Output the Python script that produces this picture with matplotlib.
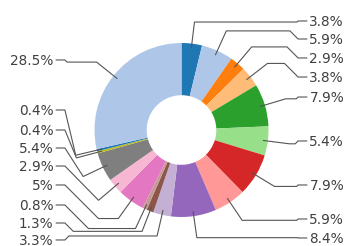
import numpy as np
import matplotlib
matplotlib.use("Agg")
import matplotlib.pyplot as plt

# ---- data ----
values = [3.8, 5.9, 2.9, 3.8, 7.9, 5.4, 7.9, 5.9, 8.4,
          3.3, 1.3, 0.8, 5.0, 2.9, 5.4, 0.4, 0.4, 28.5]
labels = [f"{v:g}%" for v in values]
colors = ["#1f77b4", "#aec7e8", "#ff7f0e", "#ffbb78", "#2ca02c", "#98df8a",
          "#d62728", "#ff9896", "#9467bd", "#c5b0d5", "#8c564b", "#c49c94",
          "#e377c2", "#f7b6d2", "#7f7f7f", "#bcbd22", "#1f77b4", "#aec7e8"]

# ---- layout: label heights (data units) after de-overlapping ----
label_y = [1.253, 1.046, 0.828, 0.609, 0.379, -0.126, -0.632, -1.023, -1.241,
           -1.264, -1.069, -0.862, -0.632, -0.414, -0.207, 0.0, 0.230, 0.805]

W_PX, H_PX = 359, 246
SCALE = 87.0           # pixels per data unit (pie radius)
CX, CY = 181.5, 116.0  # pie centre in pixels from lower-left

fig = plt.figure(figsize=(W_PX / 100, H_PX / 100), dpi=100)
ax = fig.add_axes([0, 0, 1, 1])

wedges, _ = ax.pie(values, colors=colors, startangle=90, counterclock=False,
                   radius=1.0, wedgeprops=dict(width=0.6, linewidth=0))

ax.set_xlim(-CX / SCALE, (W_PX - CX) / SCALE)
ax.set_ylim(-CY / SCALE, (H_PX - CY) / SCALE)
ax.set_aspect("equal")
ax.axis("off")

R0, R1 = 0.95, 1.25
LX = 1.47
GAP = 0.03
ARM = 0.10
line_kw = dict(color="#555555", lw=0.8, solid_joinstyle="miter", zorder=3)

for w, lab, ly in zip(wedges, labels, label_y):
    ang = np.deg2rad((w.theta1 + w.theta2) / 2.0)
    ca, sa = np.cos(ang), np.sin(ang)
    s = 1 if ca >= 0 else -1
    p0 = (R0 * ca, R0 * sa)
    p1 = (R1 * ca, R1 * sa)
    x3 = s * (LX - GAP - ARM)
    x4 = s * (LX - GAP)
    dy = abs(ly - p1[1])
    x2 = x3 - s * dy
    pts = [p0, p1]
    if s * (x2 - p1[0]) > 0:
        pts.append((x2, p1[1]))
    pts += [(x3, ly), (x4, ly)]
    xs, ys = zip(*pts)
    ax.plot(xs, ys, **line_kw)
    ax.text(s * LX, ly - 0.012, lab, ha="left" if s > 0 else "right",
            va="center", fontsize=9.8, color="#404040", zorder=4)

fig.savefig("out.png", dpi=100)
